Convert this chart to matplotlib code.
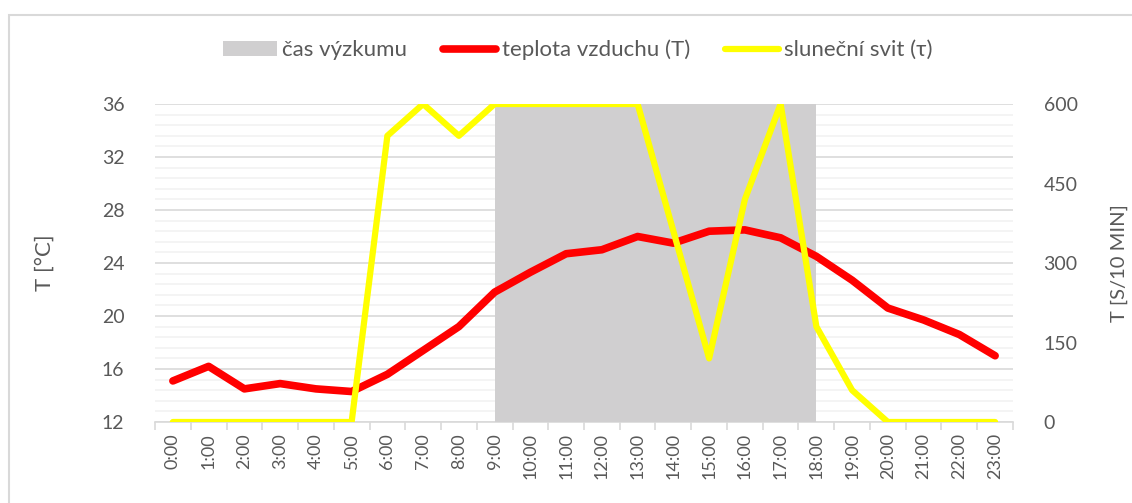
import numpy as np
import matplotlib.pyplot as plt
from matplotlib.patches import Patch, Rectangle
from matplotlib.lines import Line2D
from matplotlib.ticker import MultipleLocator, FixedLocator

hours = [f"{h}:00" for h in range(24)]
temperature = [15.1, 16.2, 14.5, 14.9, 14.5, 14.3, 15.6, 17.4, 19.2, 21.8,
               23.3, 24.7, 25.0, 26.0, 25.5, 26.4, 26.5, 25.9, 24.5, 22.7,
               20.6, 19.7, 18.6, 17.0]
sunshine = [0, 0, 0, 0, 0, 0, 540, 600, 540, 600,
            600, 600, 600, 600, 360, 120, 420, 600, 180, 60,
            0, 0, 0, 0]
research_start = 9   # 9:00
research_end = 18    # 18:00

plt.rcParams['font.family'] = ['Lato', 'DejaVu Sans']
txt = '#595959'
grid_major = '#d9d9d9'
grid_minor = '#f2f2f2'

fig = plt.figure(figsize=(11.32, 5.03), dpi=100)
ax = fig.add_axes([155/1132, 1-422/503, (1013-155)/1132, (422-104)/503])
ax2 = ax.twinx()

x = np.arange(len(hours))

# gray research window on the secondary axis (covers the grid like in Excel)
ax2.fill_between([research_start, research_end], 0, 600, color='#d0cfd0', lw=0, zorder=1)

# temperature is put on the secondary frame so it stays above the band
t_scaled = [(t - 12) / 24 * 600 for t in temperature]
ax2.plot(x, t_scaled, color='#ff0000', lw=5.5, solid_capstyle='round', zorder=2)
ax2.plot(x, sunshine, color='#ffff00', lw=4.5, solid_capstyle='round', zorder=3)

ax.set_xlim(-0.5, 23.5)
ax.set_ylim(12, 36)
ax2.set_ylim(0, 600)
ax.set_yticks(np.arange(12, 37, 4))
ax.yaxis.set_minor_locator(MultipleLocator(0.8))
ax2.set_yticks(np.arange(0, 601, 150))

ax.grid(which='major', axis='y', color=grid_major, lw=1.2, zorder=0)
ax.grid(which='minor', axis='y', color=grid_minor, lw=1.2, zorder=0)
ax.set_axisbelow(True)

ax.set_xticks(x)
ax.set_xticklabels(hours, rotation=90)
ax.xaxis.set_minor_locator(FixedLocator(np.arange(-0.5, 24, 1)))
ax.tick_params(axis='x', which='major', length=0, pad=8, labelsize=13, labelcolor=txt)
ax.tick_params(axis='x', which='minor', length=6, color=grid_major, width=1.2)
ax.tick_params(axis='y', which='both', length=0, pad=22, labelsize=14, labelcolor=txt)
ax2.tick_params(axis='y', which='both', length=0, pad=22, labelsize=14, labelcolor=txt)

for a in (ax, ax2):
    for s in ('top', 'left', 'right'):
        a.spines[s].set_visible(False)
ax.spines['bottom'].set_color(grid_major)
ax.spines['bottom'].set_linewidth(1.2)
ax2.spines['bottom'].set_visible(False)

ax.set_ylabel('T [°C]', fontsize=16, color=txt, labelpad=34)
ax2.set_ylabel('T [S/10 MIN]', fontsize=14.5, color=txt, labelpad=24, rotation=90)

handles = [Patch(facecolor='#d0cfd0', edgecolor='none'),
           Line2D([], [], color='#ff0000', lw=5.5, solid_capstyle='round'),
           Line2D([], [], color='#ffff00', lw=4.5, solid_capstyle='round')]
labels = ['čas výzkumu', 'teplota vzduchu (T)', 'sluneční svit (τ)']
fig.legend(handles, labels, loc='center', bbox_to_anchor=(578/1132, 1-50/503), ncol=3,
           frameon=False, fontsize=16, labelcolor=txt, handlelength=2.4,
           handletextpad=0.25, columnspacing=1.6)

# chart border
fig.patches.append(Rectangle((9/1132, -0.1), 1.2, 1 - 15/503 + 0.1, transform=fig.transFigure,
                             fill=False, edgecolor='#d9d9d9', lw=1.5))

fig.savefig('out.png', dpi=100)
